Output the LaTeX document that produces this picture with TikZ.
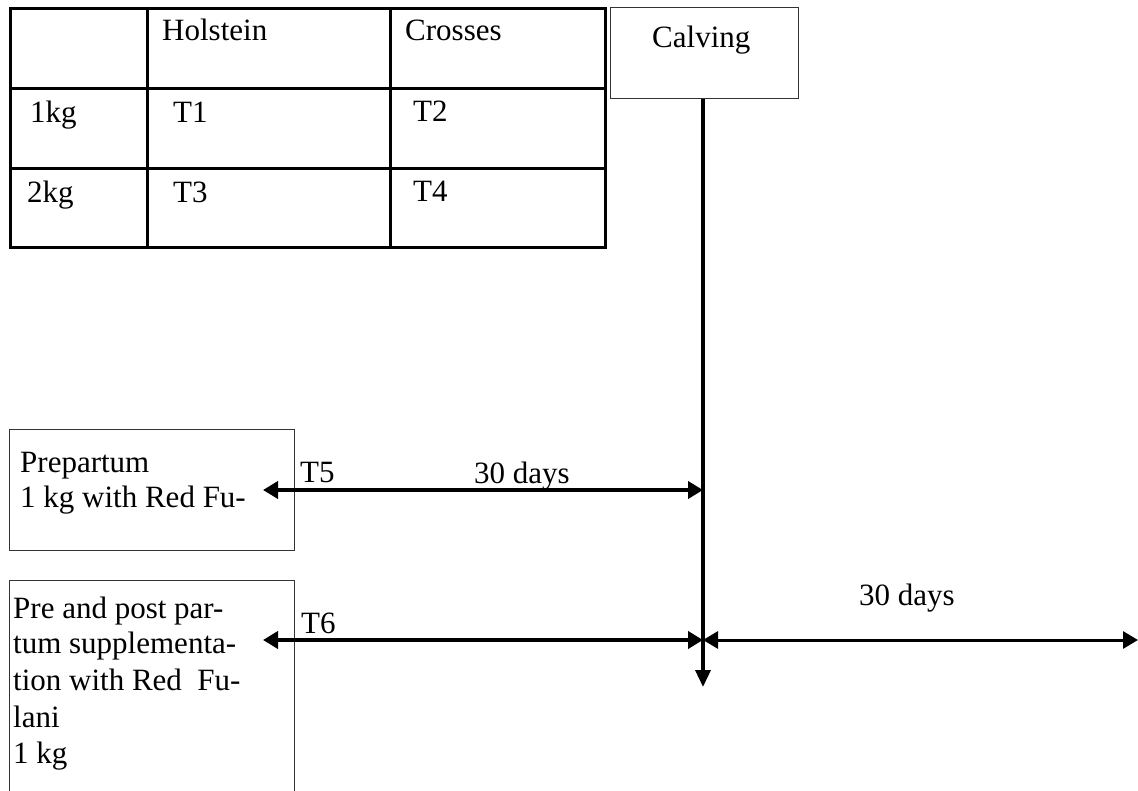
\documentclass[tikz,border=0pt]{standalone}
\usepackage{fontspec}
\setmainfont{Liberation Serif}
\usetikzlibrary{arrows.meta}
\tikzset{
  lbl/.style={inner sep=0pt, anchor=base west, font=\fontsize{31}{36}\selectfont},
  grid/.style={line width=3pt, black},
  thinbox/.style={draw=black!80, line width=1.4pt, inner sep=0pt, anchor=north west},
  bigarrow/.style={line width=4.5pt, {Triangle[length=15pt,width=17pt]}-{Triangle[length=15pt,width=17pt]}},
  midarrow/.style={line width=3pt, {Triangle[length=15pt,width=17pt]}-{Triangle[length=15pt,width=17pt]}},
  downarrow/.style={line width=3.5pt, -{Triangle[length=17pt,width=15pt]}},
}
\begin{document}
\begin{tikzpicture}[x=1pt,y=-1pt]
\useasboundingbox (0,0) rectangle (1138,790);
% table
\draw[grid] (10,8) rectangle (605,247);
\draw[grid] (147,8) -- (147,247);
\draw[grid] (390,8) -- (390,247);
\draw[grid] (10,88) -- (605,88);
\draw[grid] (10,168) -- (605,168);
\node[lbl] (hol) at (162,40) {Holstein};
\node[lbl] (cro) at (405,40) {Crosses};
\node[lbl] (k1) at (30,122) {1kg};
\node[lbl] (t1) at (173,122) {T1};
\node[lbl] (t2) at (413,121) {T2};
\node[lbl] (k2) at (27,202) {2kg};
\node[lbl] (t3) at (173,202) {T3};
\node[lbl] (t4) at (413,201) {T4};
% calving
\node[thinbox, minimum width=188pt, minimum height=91pt] (calv) at (610,7) {};
\node[lbl] (calvt) at (652,47) {Calving};
% prepartum
\node[thinbox, minimum width=285pt, minimum height=121pt] (pre) at (9,429) {};
\node[lbl] (pre1) at (20,472) {Prepartum};
\node[lbl] (pre2) at (20,507) {1 kg with Red Fu-};
% pre and post
\node[thinbox, minimum width=285pt, minimum height=230pt] (pp) at (9,580) {};
\node[lbl] (pp1) at (13,618) {Pre and post par-};
\node[lbl] (pp2) at (13,653) {tum supplementa-};
\node[lbl] (pp3) at (13,690) {tion with Red\ \ Fu-};
\node[lbl] (pp4) at (13,727) {lani};
\node[lbl] (pp5) at (13,763) {1 kg};
% coordinates
\coordinate (vtop) at (calv.south -| 703,0);
\coordinate (vend) at (703,687);
\coordinate (a5l) at (263,490);
\coordinate (a5r) at (703,490);
\coordinate (a6l) at (263,640);
\coordinate (a6r) at (703,640);
\coordinate (a7r) at (1138,640);
% arrows
\draw[downarrow] (vtop) -- (vend);
\draw[bigarrow] (a5l) -- (a5r);
\draw[bigarrow] (a6l) -- (a6r);
\draw[midarrow] (a6r) -- (a7r);
\node[lbl] (t5) at (300,482) {T5};
\node[lbl] (d1) at (474,483) {30 days};
\node[lbl] (t6) at (301,633) {T6};
\node[lbl] (d2) at (859,605) {30 days};
\end{tikzpicture}
\end{document}
